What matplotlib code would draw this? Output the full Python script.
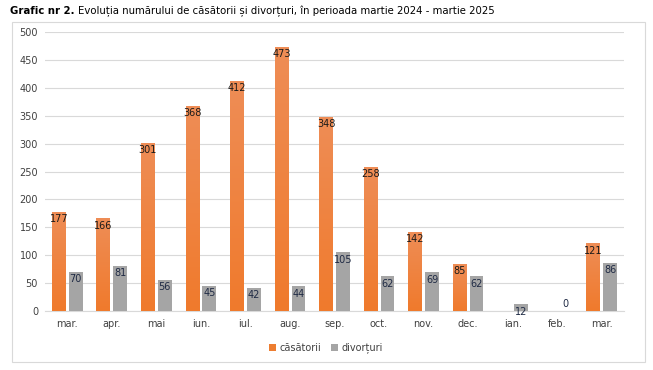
import numpy as np
import matplotlib
matplotlib.use("Agg")
import matplotlib.pyplot as plt
from matplotlib.patches import Rectangle
from matplotlib.colors import LinearSegmentedColormap

months = ["mar.", "apr.", "mai", "iun.", "iul.", "aug.", "sep.", "oct.", "nov.", "dec.", "ian.", "feb.", "mar."]
casatorii = [177, 166, 301, 368, 412, 473, 348, 258, 142, 85, None, None, 121]
divorturi = [70, 81, 56, 45, 42, 44, 105, 62, 69, 62, 12, 0, 86]
yticks = [0, 50, 100, 150, 200, 250, 300, 350, 400, 450, 500]

ORANGE = "#ED7D31"
GRAY = "#A5A5A5"
FS = 7

fig = plt.figure(figsize=(6.53, 3.70), dpi=100)
fig.patch.set_facecolor("white")

# outer chart border
fig.add_artist(Rectangle((12/653, 1-362/370), (645-12)/653, (362-22)/370,
                         transform=fig.transFigure, fill=False, ec="#D9D9D9", lw=0.8))

ax = fig.add_axes([45/653, 1-311/370, (624-45)/653, (311-32)/370])
x = np.arange(len(months))
w = 0.31
off = 0.19

c_vals = [v if v is not None else 0 for v in casatorii]
bc = ax.bar(x - off, c_vals, w, color=ORANGE, zorder=3)
bd = ax.bar(x + off, divorturi, w, color=GRAY, zorder=3)

# gradient on orange bars
grad = np.linspace(0, 1, 256).reshape(-1, 1)
cmap = LinearSegmentedColormap.from_list("og", ["#F07A2C", "#EE8D56"])
for rect, v in zip(bc, casatorii):
    if v is None:
        rect.set_visible(False)
        continue
    im = ax.imshow(grad, extent=[rect.get_x(), rect.get_x()+rect.get_width(), 0, v],
                   origin="lower", cmap=cmap, aspect="auto", zorder=3.5)
    im.set_clip_path(rect)

ax.set_xlim(-0.5, len(months) - 0.5)
ax.set_ylim(0, 500)
ax.set_yticks(yticks)
ax.grid(axis="y", color="#D9D9D9", lw=0.8, zorder=0)
for s in ["top", "right", "left"]:
    ax.spines[s].set_visible(False)
ax.spines["bottom"].set_color("#D9D9D9")
ax.tick_params(axis="both", length=0, labelsize=FS, colors="#404040", pad=5)
ax.set_xticks(x)
ax.set_xticklabels(months)
ax.tick_params(axis="x", pad=6)

for xi, v in zip(x, casatorii):
    if v is None:
        continue
    ax.text(xi - off, v - 4, str(v), ha="center", va="top", fontsize=FS, color="#1a1a1a", zorder=5)
for xi, v in zip(x, divorturi):
    if v == 0:
        ax.text(xi + off, 12, str(v), ha="center", va="center", fontsize=FS, color="#1F2A44", zorder=5)
    else:
        ax.text(xi + off, v - 4, str(v), ha="center", va="top", fontsize=FS, color="#1F2A44", zorder=5)

# legend
leg = ax.legend([bc, bd], ["căsătorii", "divorțuri"], loc="center", bbox_to_anchor=(0.485, (311-348)/279),
                ncol=2, frameon=False, fontsize=FS, handlelength=0.7, handleheight=0.7,
                handletextpad=0.4, columnspacing=1.0)
for t in leg.get_texts():
    t.set_color("#404040")

# title
t1 = fig.text(10/653, 1-11/370, "Grafic nr 2.", fontsize=7.3, fontweight="bold", va="center", ha="left")
fig.canvas.draw()
bb = t1.get_window_extent()
fig.text((bb.x1 + 3)/653, 1-11/370, "Evoluția numărului de căsătorii și divorțuri, în perioada martie 2024 - martie 2025",
         fontsize=7.3, va="center", ha="left")

fig.savefig("out.png", dpi=100)
